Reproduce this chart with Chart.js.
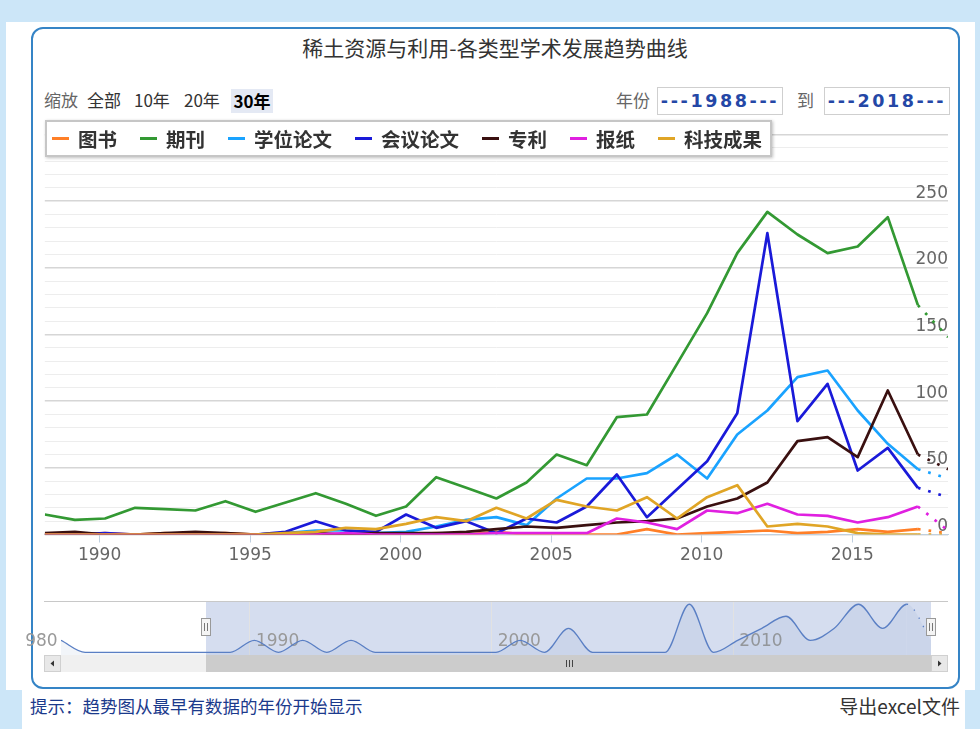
<!DOCTYPE html>
<html>
<head>
<meta charset="utf-8">
<script src="https://cdn.jsdelivr.net/npm/chart.js@4.4.1/dist/chart.umd.min.js"></script>
<style>
html,body{margin:0;padding:0;}
body{width:980px;height:729px;background:#cce6f8;position:relative;overflow:hidden;font-family:"Noto Sans CJK SC","Noto Sans",sans-serif;color:#333;}
.abs{position:absolute;white-space:nowrap;}
#bgTop{left:6px;top:22px;width:969px;height:668px;background:#fff;}
#bgBottom{left:22px;top:690px;width:943px;height:39px;background:#fff;}
#panel{left:31px;top:27px;width:925px;height:658px;border:2.5px solid #3584c6;border-radius:12px;background:#fff;}
#title{left:0;top:33px;width:990px;text-align:center;font-size:21px;line-height:28px;color:#333;}
.rs{top:88px;font-size:17px;line-height:24px;color:#333;}
.gray{color:#666;}
#sel30{left:231px;top:89px;width:42px;height:24px;background:#e4e9f4;font-weight:bold;text-align:center;color:#000;}
.yearBox{top:87px;width:124px;height:26px;border:1px solid #cfcfcf;background:#fff;text-align:center;font-family:"DejaVu Sans",sans-serif;font-weight:bold;font-size:17.5px;line-height:26px;color:#2447a6;letter-spacing:2.6px;}
#legend{left:45px;top:120px;width:718px;height:33px;border:2px solid #c6c6c6;background:#fff;box-shadow:1px 1px 3px rgba(0,0,0,0.25);display:flex;align-items:center;padding-left:5px;box-sizing:content-box;z-index:3;}
.li{display:flex;align-items:center;margin-right:23px;font-weight:bold;font-size:19.5px;line-height:24px;color:#333;}
.sym{width:17px;height:3px;margin-right:9px;}
#mainWrap{left:0;top:0;width:980px;height:590px;z-index:2;}
#navWrap{left:26px;top:595px;width:927px;height:82px;z-index:2;}
#hint{left:30px;top:693px;font-size:17.5px;line-height:26px;color:#1b3a8c;}
#export{left:780px;top:692px;width:180px;text-align:right;font-size:19px;line-height:28px;color:#333;}
</style>
</head>
<body>
<div id="bgTop" class="abs"></div>
<div id="bgBottom" class="abs"></div>
<div id="panel" class="abs"></div>
<div id="title" class="abs">稀土资源与利用-各类型学术发展趋势曲线</div>
<span class="abs rs gray" style="left:44px">缩放</span>
<span class="abs rs" style="left:87px">全部</span>
<span class="abs rs" style="left:134px">10年</span>
<span class="abs rs" style="left:184px">20年</span>
<span id="sel30" class="abs rs">30年</span>
<span class="abs rs gray" style="left:616px">年份</span>
<div id="fromBox" class="abs yearBox" style="left:657px"></div>
<span class="abs rs gray" style="left:797px">到</span>
<div id="toBox" class="abs yearBox" style="left:824px"></div>
<div id="legend" class="abs"></div>
<div id="mainWrap" class="abs"><canvas id="main" width="980" height="590"></canvas></div>
<div id="navWrap" class="abs"><canvas id="nav" width="927" height="82"></canvas></div>
<div id="hint" class="abs">提示：趋势图从最早有数据的年份开始显示</div>
<div id="export" class="abs">导出excel文件</div>
<script>
// ---------------- data ----------------
const years = [1988,1989,1990,1991,1992,1993,1994,1995,1996,1997,1998,1999,2000,2001,2002,2003,2004,2005,2006,2007,2008,2009,2010,2011,2012,2013,2014,2015,2016,2017,2018];
const bookYears = [1982,1983,1984,1985,1986,1987,1988,1989,1990,1991,1992,1993,1994,1995,1996,1997,1998,1999,2000,2001,2002,2003,2004,2005,2006,2007,2008,2009,2010,2011,2012,2013,2014,2015,2016,2017,2018];
const books       = [1,0,0,0,0,0,0,0,1,0,1,0,1,0,0,0,0,0,0,1,0,2,0,0,0,0,4,0,1,2,3,1,2,4,2,4,1];
const journals    = [15,11,12,20,19,18,25,17,24,31,23,14,21,43,35,27,39,60,52,88,90,128,166,211,242,225,211,216,238,172,148];
const theses      = [0,0,0,0,0,0,0,0,1,3,3,1,2,6,11,13,7,27,42,42,46,60,42,75,93,118,123,93,68,49,42];
const conferences = [0,0,1,0,0,1,0,0,2,10,3,2,15,5,10,1,12,9,21,45,13,34,55,91,226,85,113,48,65,35,28];
const patents     = [1,2,0,0,1,2,1,0,1,1,0,1,1,1,2,4,6,5,7,9,10,12,21,27,39,70,73,58,108,60,49];
const newspapers  = [0,0,0,0,0,0,0,0,0,0,1,0,0,0,0,1,1,1,1,12,9,4,18,16,23,15,14,9,13,21,3];
const achievements= [0,0,0,0,0,0,0,0,1,2,5,4,8,13,10,20,12,26,21,18,28,12,28,37,6,8,6,1,0,0,0];

const seriesNames  = ['图书','期刊','学位论文','会议论文','专利','报纸','科技成果'];
const seriesColors = ['#ff7f27','#339933','#1aa3ff','#1a1ad9','#3a1010','#e020e0','#e0a526'];

const xTickYears   = [1990,1995,2000,2005,2010,2015];
const navTickYears = [1980,1990,2000,2010];
const yMax = 300, yStep = 10, yLabelStep = 50;
const rangeFrom = 1988, rangeTo = 2018;
const pointPhase = 0.18;   // where a year's point sits inside the year on the time axis

document.getElementById('fromBox').textContent = '---' + rangeFrom + '---';
document.getElementById('toBox').textContent = '---' + rangeTo + '---';

// legend (HTML)
const lg = document.getElementById('legend');
seriesNames.forEach((n,i)=>{
  const it = document.createElement('div'); it.className='li';
  const s = document.createElement('span'); s.className='sym'; s.style.background=seriesColors[i];
  const t = document.createElement('span'); t.textContent=n;
  it.appendChild(s); it.appendChild(t); lg.appendChild(it);
});

const seriesValues = [books, journals, theses, conferences, patents, newspapers, achievements];
const seriesYears  = [bookYears, years, years, years, years, years, years];

const dotted = (lastIdx, w) => ({ borderDash: c => c.p1DataIndex === lastIdx ? [w, 8] : undefined });

const datasets = seriesValues.map((vals,i)=>({
  label: seriesNames[i],
  data: seriesYears[i].map((y,k)=>({x:y+pointPhase, y:vals[k]})),
  borderColor: seriesColors[i],
  backgroundColor: seriesColors[i],
  borderWidth: 2.7,
  pointRadius: 0,
  tension: 0,
  order: -i,
  borderJoinStyle: 'round',
  segment: dotted(vals.length-1, 2.7)
}));

const tickFont = {family:'DejaVu Sans', size:17};

new Chart(document.getElementById('main'), {
  type:'line',
  data:{datasets},
  options:{
    responsive:false, animation:false, devicePixelRatio:1,
    layout:{padding:{left:44.8, right:32, top:134.5, bottom:25.5}},
    plugins:{legend:{display:false}, tooltip:{enabled:false}},
    scales:{
      x:{
        type:'linear', min:rangeFrom+pointPhase, max:rangeTo+pointPhase,
        afterBuildTicks: s => { s.ticks = xTickYears.map(v=>({value:v})); },
        afterFit: s => { s.height = 30; s.paddingLeft = 0; s.paddingRight = 0; },
        border:{display:true, color:'#c0d0e0', width:1},
        grid:{drawOnChartArea:false, drawTicks:true, tickLength:8, color:'#c0d0e0'},
        ticks:{autoSkip:false, maxRotation:0, padding:3, color:'#666', font:tickFont, callback:v=>String(v)}
      },
      y:{
        position:'right', min:0, max:yMax,
        afterFit: s => { s.width = 0; },
        border:{display:false},
        grid:{drawTicks:false,
              color: c => (c.tick && c.tick.value % yLabelStep === 0) ? '#d6d6d6' : '#ededed',
              lineWidth: c => (c.tick && c.tick.value % yLabelStep === 0) ? 1.5 : 1},
        ticks:{stepSize:yStep, autoSkip:false, mirror:true, padding:0, labelOffset:-8, color:'#666', font:tickFont,
               callback: v => (v % yLabelStep === 0 && v < yMax) ? String(v) : ''}
      }
    }
  }
});

// ---------------- navigator ----------------
const navDecor = {
  id:'navDecor',
  beforeDraw(chart){
    const {ctx, chartArea:a, scales:{x}} = chart;
    const x0 = x.getPixelForValue(rangeFrom+pointPhase), x1 = x.getPixelForValue(rangeTo+pointPhase);
    ctx.save();
    ctx.fillStyle = '#d5ddef';
    ctx.fillRect(x0, a.top, x1-x0, a.bottom-a.top);
    ctx.restore();
  },
  afterDraw(chart){
    const {ctx, chartArea:a, scales:{x}} = chart;
    const x0 = x.getPixelForValue(rangeFrom+pointPhase), x1 = x.getPixelForValue(rangeTo+pointPhase);
    const L = a.left-17, R = a.right+17, T = a.bottom, B = a.bottom+17;
    ctx.save();
    // top outline
    ctx.strokeStyle='#c8c8c8'; ctx.lineWidth=1;
    ctx.beginPath(); ctx.moveTo(L, a.top+0.5); ctx.lineTo(R, a.top+0.5); ctx.stroke();
    // scrollbar track
    ctx.fillStyle='#f0f0f0'; ctx.fillRect(L, T, R-L, B-T);
    // thumb
    ctx.fillStyle='#cccccc'; ctx.fillRect(x0, T, x1-x0, B-T);
    // grip
    const cx = (x0+x1)/2;
    ctx.strokeStyle='#444'; ctx.lineWidth=1;
    for (let d=-3; d<=3; d+=3){ ctx.beginPath(); ctx.moveTo(Math.round(cx+d)+0.5, T+5); ctx.lineTo(Math.round(cx+d)+0.5, T+12); ctx.stroke(); }
    // buttons
    [[L, -1],[a.right, 1]].forEach(([bx,dir])=>{
      ctx.fillStyle='#e8e8e8'; ctx.fillRect(bx, T, 17, B-T);
      ctx.strokeStyle='#d0d0d0'; ctx.strokeRect(bx+0.5, T+0.5, 16, B-T-1);
      ctx.fillStyle='#333';
      const mx = bx+8.5, my = T+8.5;
      ctx.beginPath(); ctx.moveTo(mx+dir*2, my); ctx.lineTo(mx-dir*1.5, my-3); ctx.lineTo(mx-dir*1.5, my+3); ctx.closePath(); ctx.fill();
    });
    // handles
    [x0, x1].forEach(hx=>{
      const hy = a.top+17;
      ctx.fillStyle='#f4f4f4'; ctx.fillRect(Math.round(hx)-4.5, hy, 9, 18);
      ctx.strokeStyle='#999'; ctx.strokeRect(Math.round(hx)-4.5, hy+0.5, 9, 17);
      ctx.strokeStyle='#777';
      ctx.beginPath(); ctx.moveTo(Math.round(hx)-1.5, hy+5); ctx.lineTo(Math.round(hx)-1.5, hy+13);
      ctx.moveTo(Math.round(hx)+1.5, hy+5); ctx.lineTo(Math.round(hx)+1.5, hy+13); ctx.stroke();
    });
    ctx.restore();
  }
};

new Chart(document.getElementById('nav'), {
  type:'line',
  data:{datasets:[{
    data: bookYears.map((y,k)=>({x:y+pointPhase, y:books[k]})),
    borderColor:'#5a7fc4', borderWidth:1.3, pointRadius:0,
    cubicInterpolationMode:'monotone',
    fill:'start', backgroundColor:'rgba(69,114,167,0.07)',
    segment: dotted(books.length-1, 1.3)
  }]},
  options:{
    responsive:false, animation:false, devicePixelRatio:1,
    layout:{padding:{left:35, right:22, top:6, bottom:0}},
    plugins:{legend:{display:false}, tooltip:{enabled:false}},
    scales:{
      x:{
        type:'linear', min:bookYears[0]+pointPhase, max:bookYears[bookYears.length-1]+pointPhase,
        afterBuildTicks: s => { s.ticks = navTickYears.map(v=>({value:v})); },
        afterFit: s => { s.height = 22; s.paddingLeft = 0; s.paddingRight = 0; },
        border:{display:false},
        grid:{drawTicks:false, color:'#e2e2e2'},
        ticks:{autoSkip:false, maxRotation:0, align:'start', mirror:true, labelOffset:6, padding:3, color:'#999', font:tickFont, callback:v=>String(v)}
      },
      y:{display:false, min:-0.22, max:4.27}
    }
  },
  plugins:[navDecor]
});
</script>
</body>
</html>
